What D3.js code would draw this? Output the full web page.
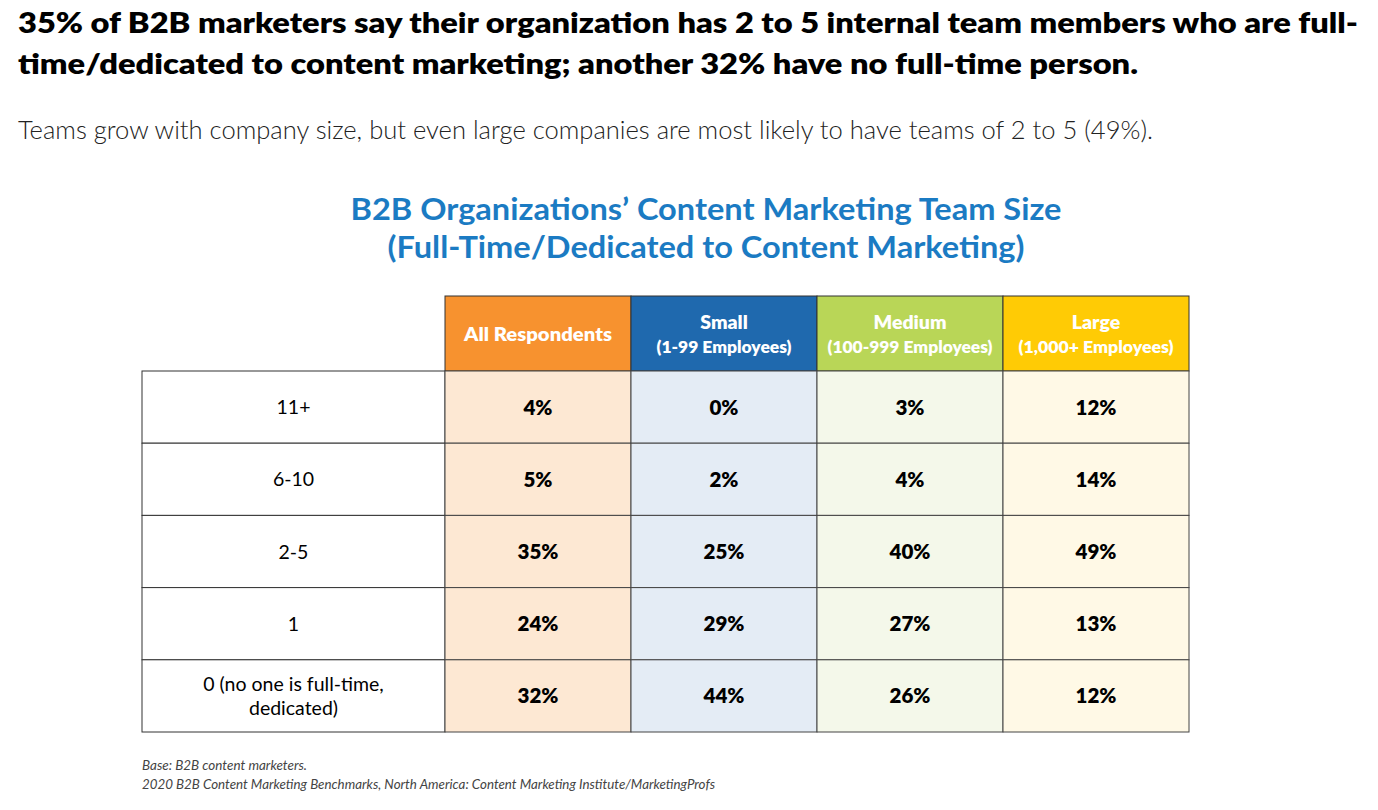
<!DOCTYPE html>
<html><head><meta charset="utf-8">
<script src="https://cdn.jsdelivr.net/npm/d3@7"></script>
<style>body{margin:0;background:#fff}svg{display:block}</style>
</head><body>
<svg id="c" width="1378" height="810"></svg>
<script>
const titleLines = ["35% of B2B marketers say their organization has 2 to 5 internal team members who are full-",
  "time/dedicated to content marketing; another 32% have no full-time person."];
const subtitle = "Teams grow with company size, but even large companies are most likely to have teams of 2 to 5 (49%).";
const chartTitle = ["B2B Organizations\u2019 Content Marketing Team Size", "(Full-Time/Dedicated to Content Marketing)"];
const groups = ["All Respondents", "Small", "Medium", "Large"];
const groupSub = ["", "(1-99 Employees)", "(100-999 Employees)", "(1,000+ Employees)"];
const teamSizes = ["11+", "6-10", "2-5", "1", "0 (no one is full-time,\ndedicated)"];
const allResp = [4, 5, 35, 24, 32];
const small = [0, 2, 25, 29, 44];
const medium = [3, 4, 40, 27, 26];
const large = [12, 14, 49, 13, 12];
const footnotes = ["Base: B2B content marketers.",
  "2020 B2B Content Marketing Benchmarks, North America: Content Marketing Institute/MarketingProfs"];

const headColors = ["#F7922F", "#1F69AE", "#B9D657", "#FFCB05"];
const cellColors = ["#FDE8D3", "#E4ECF5", "#F4F8EA", "#FFF9E6"];
const series = [allResp, small, medium, large];

const svg = d3.select("#c");
const F = "'Source Sans Pro','Lato','Noto Sans',sans-serif";

function fitExact(node, w) {
  node.setAttribute("textLength", w); node.setAttribute("lengthAdjust","spacingAndGlyphs");
}
function fitMax(node, w) {
  if (node.getComputedTextLength() > w) fitExact(node, w);
}

// Title
const tW = [1340, 1120];
svg.selectAll("text.t").data(titleLines).join("text").attr("class","t")
  .attr("x",18).attr("y",33).attr("y",(d,i)=>33+i*41).attr("font-family",F).attr("font-weight",800)
  .attr("font-size",29).attr("fill","#000").text(d=>d)
  .each(function(d,i){ fitExact(this, tW[i]); });

svg.append("text").attr("x",18).attr("y",139).attr("font-family",F).attr("font-weight",300)
  .attr("font-size",24.5).attr("fill","#222").text(subtitle)
  .each(function(){ fitExact(this, 1135); });

const ctW = [711, 637];
svg.selectAll("text.ct").data(chartTitle).join("text").attr("class","ct")
  .attr("x",706).attr("y",(d,i)=>220+i*38).attr("text-anchor","middle").attr("font-family",F)
  .attr("font-weight",700).attr("font-size",30).attr("fill","#1B7BC3").text(d=>d)
  .each(function(d,i){ fitExact(this, ctW[i]); });

// Table scales
const x = d3.scaleBand().domain(groups).range([445, 1189]);
const y = d3.scaleBand().domain(teamSizes).range([371, 732]);
const labelX0 = 142, headY0 = 296;

// header cells
const hg = svg.append("g");
hg.selectAll("rect").data(groups).join("rect")
  .attr("x", d=>x(d)).attr("y", headY0).attr("width", x.bandwidth()).attr("height", y.range()[0]-headY0)
  .attr("fill",(d,i)=>headColors[i]).attr("stroke","#333").attr("stroke-width",1);
hg.selectAll("text.h").data(groups).join("text").attr("class","h")
  .attr("x", d=>x(d)+x.bandwidth()/2)
  .attr("y",(d,i)=> i===0 ? 341 : 329)
  .attr("text-anchor","middle").attr("font-family",F).attr("font-weight",800).attr("font-size",19.5)
  .attr("fill","#fff").text(d=>d)
  .each(function(d,i){ if (i===0) fitExact(this, 148); });
const hsW = {"Small":135, "Medium":165, "Large":155};
hg.selectAll("text.hs").data(groups.filter((d,i)=>groupSub[i])).join("text").attr("class","hs")
  .attr("x", d=>x(d)+x.bandwidth()/2).attr("y",353)
  .attr("text-anchor","middle").attr("font-family",F).attr("font-weight",800).attr("font-size",16)
  .attr("fill","#fff").text(d=>groupSub[groups.indexOf(d)])
  .each(function(d){ fitExact(this, hsW[d]); });

// rows
const rg = svg.append("g");
rg.selectAll("rect.l").data(teamSizes).join("rect").attr("class","l")
  .attr("x",labelX0).attr("y",d=>y(d)).attr("width",x.range()[0]-labelX0).attr("height",y.bandwidth())
  .attr("fill","#fff").attr("stroke","#333");
rg.selectAll("text.l").data(teamSizes).join("text").attr("class","l")
  .attr("text-anchor","middle").attr("font-family",F).attr("font-size",19.5).attr("fill","#000")
  .each(function(d){
    const lines = d.split("\n"); const cy = y(d)+y.bandwidth()/2;
    const t = d3.select(this);
    lines.forEach((ln,k)=>{
      t.append("tspan").attr("x",(labelX0+x.range()[0])/2)
       .attr("y", cy + 7 + (k-(lines.length-1)/2)*24).text(ln);
    });
  });

const cells = [];
series.forEach((s,gi)=> s.forEach((v,ri)=> cells.push({g:groups[gi], gi, r:teamSizes[ri], v})));
rg.selectAll("rect.c").data(cells).join("rect").attr("class","c")
  .attr("x",d=>x(d.g)).attr("y",d=>y(d.r)).attr("width",x.bandwidth()).attr("height",y.bandwidth())
  .attr("fill",d=>cellColors[d.gi]).attr("stroke","#444");
rg.selectAll("text.c").data(cells).join("text").attr("class","c")
  .attr("x",d=>x(d.g)+x.bandwidth()/2).attr("y",d=>y(d.r)+y.bandwidth()/2+7.5)
  .attr("text-anchor","middle").attr("font-family",F).attr("font-weight",800).attr("font-size",20.5)
  .attr("fill","#000").text(d=>d.v+"%");

const fnW = [165, 573];
svg.selectAll("text.fn").data(footnotes).join("text").attr("class","fn")
  .attr("x",142).attr("y",(d,i)=>770+i*19).attr("font-family",F).attr("font-style","italic")
  .attr("font-size",12.5).attr("fill","#444").text(d=>d)
  .each(function(d,i){ fitExact(this, fnW[i]); });
</script>
</body></html>
